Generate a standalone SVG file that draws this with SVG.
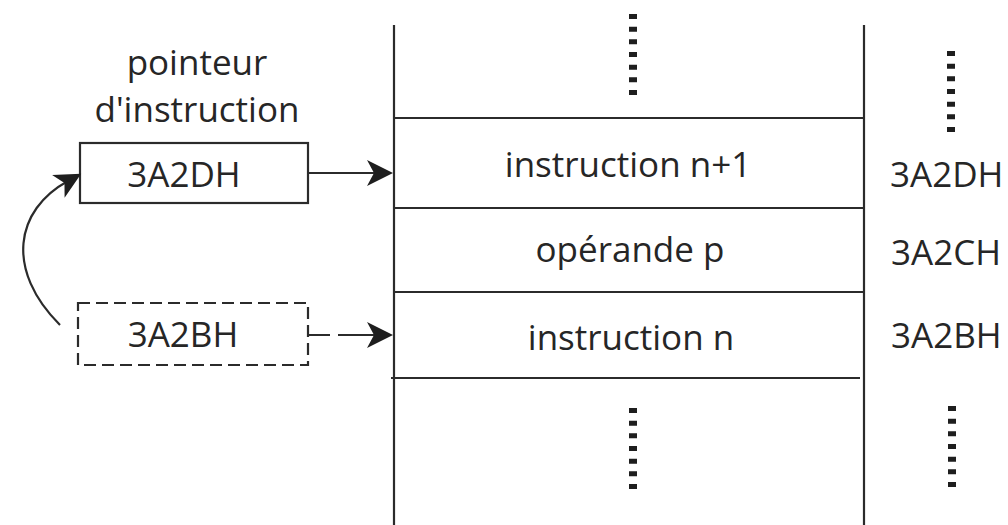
<svg xmlns="http://www.w3.org/2000/svg" width="1008" height="525" viewBox="0 0 1008 525">
  <style>
    .ln { stroke: #2b2b2b; stroke-width: 2.2; fill: none; }
    .dash { stroke: #2b2b2b; stroke-width: 2.2; fill: none; stroke-dasharray: 12 6; }
    .dots { stroke: #1e1e1e; stroke-width: 8; fill: none; stroke-dasharray: 5 7.67; }
    .t { font-family: "Open Sans", "Noto Sans", sans-serif; font-size: 35px; fill: #262626; }
    .c { text-anchor: middle; }
  </style>
  <defs>
    <marker id="head" viewBox="0 0 28 28" refX="12" refY="14" markerWidth="28" markerHeight="28" markerUnits="userSpaceOnUse" orient="auto">
      <path d="M27,14 L1,1 L8,14 L1,27 Z" fill="#1e1e1e"/>
    </marker>
  </defs>
  <rect width="1008" height="525" fill="#ffffff"/>

  <!-- memory column -->
  <g id="memory">
    <line class="ln" x1="394" y1="25" x2="394" y2="525"/>
    <line class="ln" x1="864" y1="25" x2="864" y2="525"/>
    <line class="ln" x1="394" y1="118" x2="864" y2="118"/>
    <line class="ln" x1="394" y1="208" x2="864" y2="208"/>
    <line class="ln" x1="394" y1="292" x2="864" y2="292"/>
    <line class="ln" x1="391" y1="378" x2="860" y2="378"/>
    <line class="dots" x1="633" y1="14" x2="633" y2="95"/>
    <line class="dots" x1="633" y1="408" x2="633" y2="489"/>
  </g>

  <g id="cell-instr-n1">
    <text class="t c" x="628" y="177">instruction n+1</text>
  </g>
  <g id="cell-operande">
    <text class="t c" x="630" y="262">opérande p</text>
  </g>
  <g id="cell-instr-n">
    <text class="t c" x="631" y="350">instruction n</text>
  </g>

  <!-- addresses -->
  <g id="addresses">
    <line class="dots" x1="951" y1="51" x2="951" y2="132"/>
    <text class="t" x="890" y="187">3A2DH</text>
    <text class="t" x="891" y="265">3A2CH</text>
    <text class="t" x="891" y="348">3A2BH</text>
    <line class="dots" x1="952" y1="406" x2="952" y2="487"/>
  </g>

  <!-- instruction pointer, current value -->
  <g id="ip-label">
    <text class="t c" x="197" y="75">pointeur</text>
    <text class="t c" x="197" y="122">d'instruction</text>
  </g>
  <g id="ip-new">
    <rect class="ln" x="80" y="143" width="228" height="60"/>
    <text class="t c" x="184" y="187">3A2DH</text>
  </g>

  <!-- instruction pointer, previous value -->
  <g id="ip-old">
    <rect class="dash" x="78" y="303" width="230" height="62"/>
    <text class="t c" x="183" y="347">3A2BH</text>
  </g>

  <g id="connectors">
    <path class="ln" d="M308,173 L378,173" marker-end="url(#head)"/>
    <path class="ln" d="M308,335 L330,335 M338,335 L378,335" marker-end="url(#head)"/>
    <path class="ln" d="M60,325 C5,270 15,210 68,181" marker-end="url(#head)"/>
  </g>
</svg>
